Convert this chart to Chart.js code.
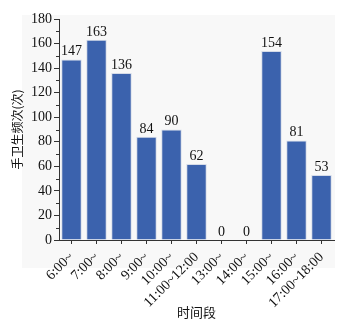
<!DOCTYPE html>
<html>
<head>
<meta charset="utf-8">
<script src="https://cdn.jsdelivr.net/npm/chart.js@4.4.0/dist/chart.umd.min.js"></script>
<style>
    html, body { margin: 0; padding: 0; background: #fff; }
    #wrap { width: 358px; height: 324px; }
</style>
</head>
<body>
<div id="wrap"><canvas id="chart"></canvas></div>
<script>
// Data
const timeSlots = ['6:00~', '7:00~', '8:00~', '9:00~', '10:00~', '11:00~12:00',
    '13:00~', '14:00~', '15:00~', '16:00~', '17:00~18:00'];
const handHygieneCounts = [147, 163, 136, 84, 90, 62, 0, 0, 154, 81, 53];
const yTicks = [0, 20, 40, 60, 80, 100, 120, 140, 160, 180];

const serif = "'Liberation Serif', 'Times New Roman', serif";
const cjk = "'Noto Sans CJK SC', sans-serif";
const barBlue = '#3b62ad';

// light panel behind the plot, plus minor ticks on y axis
const panelPlugin = {
    id: 'panel',
    beforeDraw(chart) {
        const a = chart.chartArea;
        const ctx = chart.ctx;
        ctx.save();
        ctx.fillStyle = '#f8f8f8';
        ctx.fillRect(a.left - 37, a.top - 4, a.right - a.left + 38, a.bottom - a.top + 32);
        ctx.restore();
    },
    afterDraw(chart) {
        const y = chart.scales.y;
        const ctx = chart.ctx;
        ctx.save();
        ctx.strokeStyle = '#333';
        ctx.lineWidth = 1;
        for (let v = 10; v < 180; v += 20) {
            const py = Math.round(y.getPixelForValue(v)) + 0.5;
            ctx.beginPath();
            ctx.moveTo(y.right - 3, py);
            ctx.lineTo(y.right, py);
            ctx.stroke();
        }
        ctx.restore();
    }
};

// value labels above each bar
const valueLabels = {
    id: 'valueLabels',
    afterDatasetsDraw(chart) {
        const ctx = chart.ctx;
        const meta = chart.getDatasetMeta(0);
        ctx.save();
        ctx.font = '14px ' + serif;
        ctx.fillStyle = '#111';
        ctx.textAlign = 'center';
        ctx.textBaseline = 'bottom';
        meta.data.forEach((bar, i) => {
            ctx.fillText(String(handHygieneCounts[i]), bar.x, bar.y - 1);
        });
        ctx.restore();
    }
};

new Chart(document.getElementById('chart'), {
    type: 'bar',
    data: {
        labels: timeSlots,
        datasets: [{
            data: handHygieneCounts,
            backgroundColor: barBlue,
            borderColor: '#d5dbe8',
            borderWidth: 1,
            barPercentage: 0.82,
            categoryPercentage: 1.0
        }]
    },
    options: {
        responsive: true,
        maintainAspectRatio: false,
        animation: false,
        layout: {
            padding: { top: 19, right: 24, left: 0, bottom: 0 }
        },
        plugins: {
            legend: { display: false },
            tooltip: { enabled: false }
        },
        scales: {
            x: {
                grid: {
                    display: true,
                    drawOnChartArea: false,
                    drawTicks: true,
                    tickLength: 4,
                    color: '#333',
                    offset: false
                },
                border: { display: true, color: '#333', width: 1 },
                ticks: {
                    minRotation: 45,
                    maxRotation: 45,
                    autoSkip: false,
                    padding: 5,
                    color: '#111',
                    font: { family: serif, size: 14 }
                },
                title: {
                    display: true,
                    text: '时间段',
                    color: '#111',
                    font: { family: cjk, size: 13 },
                    padding: { top: 0, bottom: 4 }
                },
                afterFit(scale) { scale.height = 84; }
            },
            y: {
                min: 0,
                max: 180,
                afterBuildTicks(scale) {
                    scale.ticks = yTicks.map(v => ({ value: v }));
                },
                grid: {
                    display: true,
                    drawOnChartArea: false,
                    drawTicks: true,
                    tickLength: 5,
                    color: '#333'
                },
                border: { display: true, color: '#333', width: 1 },
                ticks: {
                    padding: 2,
                    color: '#111',
                    font: { family: serif, size: 14 }
                },
                title: {
                    display: true,
                    text: '手卫生频次(次)',
                    color: '#111',
                    font: { family: cjk, size: 12 },
                    padding: { top: 10, bottom: 4 }
                },
                afterFit(scale) { scale.width = 59; }
            }
        }
    },
    plugins: [panelPlugin, valueLabels]
});
</script>
</body>
</html>
